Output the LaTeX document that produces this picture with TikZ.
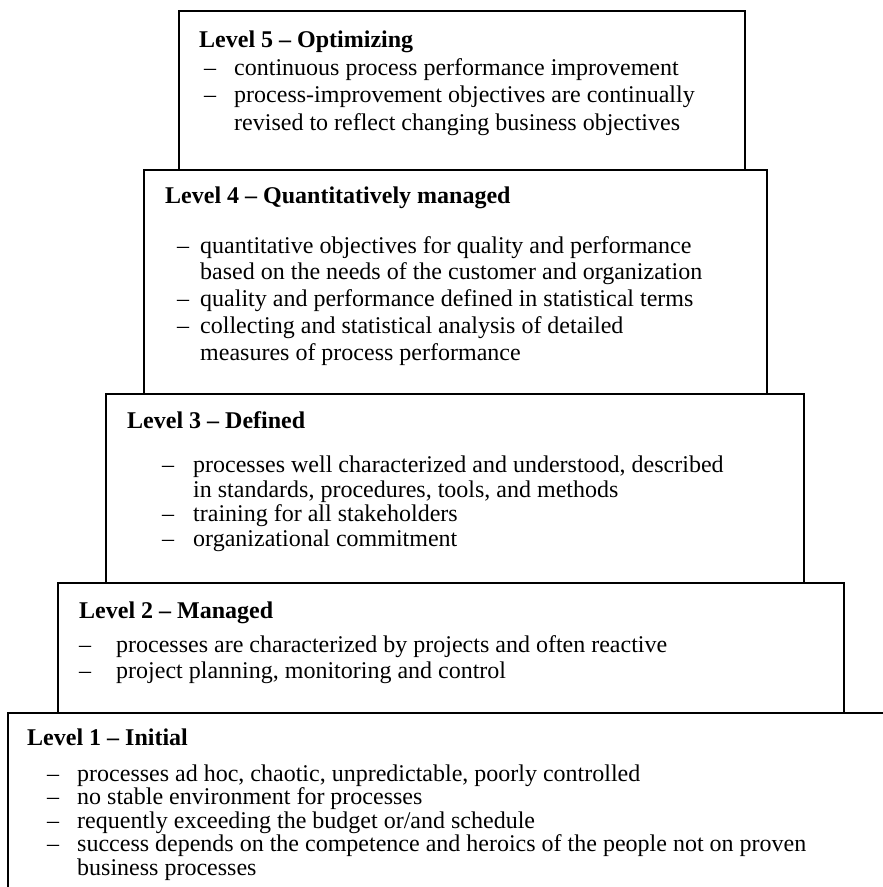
\documentclass[tikz,border=0pt]{standalone}
\usepackage{fontspec}
\setmainfont{Liberation Serif}
\usepackage{tikz}

\tikzset{
	levelbox/.style={shape=rectangle, draw=black, line width=1.8pt, anchor=north west, inner sep=0pt},
	leveltext/.style={anchor=base west, align=left, inner sep=0pt, font=\fontsize{24}{#1}\selectfont},
}
% dash at offset #1, text starts #2 after the dash
\newcommand{\dashitem}[3]{\hspace*{#1pt}\makebox[#2pt][l]{–}#3}
\newcommand{\hangitem}[2]{\hspace*{#1pt}#2}

\begin{document}
\begin{tikzpicture}[x=1pt, y=-1pt]
	\clip (0,0) rectangle (883,887);

	\node[levelbox, minimum width=566pt, minimum height=159pt] (box5) at (178, 10)  {};
	\node[levelbox, minimum width=623pt, minimum height=224pt] (box4) at (143, 169) {};
	\node[levelbox, minimum width=698pt, minimum height=189pt] (box3) at (105, 393) {};
	\node[levelbox, minimum width=786pt, minimum height=130pt] (box2) at (57, 582)  {};
	\node[levelbox, minimum width=900pt, minimum height=220pt] (box1) at (7, 712)   {};

	% text nodes sit on the baseline of their last line
	\node[leveltext=27.5] (text5) at (199, 130) {\textbf{Level 5 – Optimizing}\\
		\dashitem{5}{30}{continuous process performance improvement}\\
		\dashitem{5}{30}{process-improvement objectives are continually}\\
		\hangitem{35}{revised to reflect changing business objectives}};

	\node[leveltext=26.7] (text4) at (165, 360) {\textbf{Level 4 – Quantitatively managed}\\[23.3pt]
		\dashitem{12}{23}{quantitative objectives for quality and performance}\\
		\hangitem{35}{based on the needs of the customer and organization}\\
		\dashitem{12}{23}{quality and performance defined in statistical terms}\\
		\dashitem{12}{23}{collecting and statistical analysis of detailed}\\
		\hangitem{35}{measures of process performance}};

	\node[leveltext=24.5] (text3) at (127, 546) {\textbf{Level 3 – Defined}\\[19.5pt]
		\dashitem{35}{31}{processes well characterized and understood, described}\\
		\hangitem{66}{in standards, procedures, tools, and methods}\\
		\dashitem{35}{31}{training for all stakeholders}\\
		\dashitem{35}{31}{organizational commitment}};

	\node[leveltext=26] (text2) at (79, 678) {\textbf{Level 2 – Managed}\\[8pt]
		\dashitem{0}{37}{processes are characterized by projects and often reactive}\\
		\dashitem{0}{37}{project planning, monitoring and control}};

	\node[leveltext=23.5] (text1) at (27, 875) {\textbf{Level 1 – Initial}\\[12.5pt]
		\dashitem{20}{30}{processes ad hoc, chaotic, unpredictable, poorly controlled}\\
		\dashitem{20}{30}{no stable environment for processes}\\
		\dashitem{20}{30}{requently exceeding the budget or/and schedule}\\
		\dashitem{20}{30}{success depends on the competence and heroics of the people not on proven}\\
		\hangitem{50}{business processes}};

\end{tikzpicture}
\end{document}
